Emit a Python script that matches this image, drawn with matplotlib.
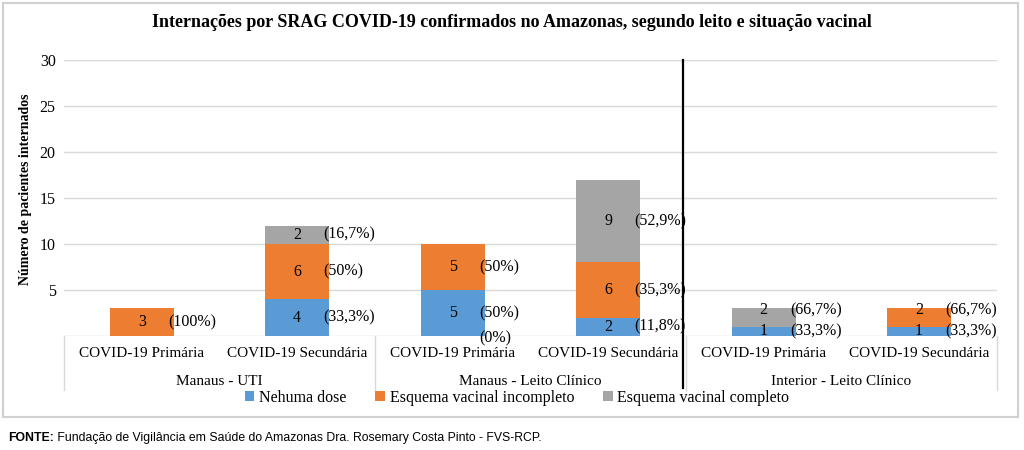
import matplotlib.pyplot as plt
import matplotlib.transforms as mtransforms
from matplotlib.patches import Rectangle, Patch

# dados
categorias = ['COVID-19 Primária', 'COVID-19 Secundária'] * 3
grupos = ['Manaus - UTI', 'Manaus - Leito Clínico', 'Interior - Leito Clínico']
nenhuma_dose = [0, 4, 5, 2, 1, 1]
incompleto = [3, 6, 5, 6, 0, 2]
completo = [0, 2, 0, 9, 2, 0]
series_nomes = ['Nehuma dose', 'Esquema vacinal incompleto', 'Esquema vacinal completo']
cores = ['#5B9BD5', '#ED7D31', '#A5A5A5']

plt.rcParams['font.family'] = ['Liberation Serif', 'DejaVu Serif']

fig = plt.figure(figsize=(10.24, 4.5), dpi=100)
ax = fig.add_axes([0.0625, 0.2533, 0.911, 0.6134])

x = list(range(len(categorias)))
largura = 0.41
series = [nenhuma_dose, incompleto, completo]
totais = [sum(v) for v in zip(*series)]


def fmt_pct(v, t):
    p = round(100 * v / t, 1)
    if p == int(p):
        return f'({int(p)}%)'
    return '(' + f'{p:.1f}'.replace('.', ',') + '%)'


base = [0] * len(x)
ultimo = [-10] * len(x)  # última posição de rótulo por barra (evita sobreposição)
for vals, cor, nome in zip(series, cores, series_nomes):
    ax.bar(x, vals, largura, bottom=base, color=cor, label=nome, zorder=2)
    for i, v in enumerate(vals):
        if v > 0:
            yc = max(base[i] + v / 2, ultimo[i] + 2.3)
            ultimo[i] = yc
            ax.text(x[i], yc, str(v), ha='center', va='center', fontsize=11.5)
            ax.text(x[i] + 0.17, yc, fmt_pct(v, totais[i]), ha='left', va='center', fontsize=11.5)
    base = [b + v for b, v in zip(base, vals)]

# rótulo de zero mostrado no gráfico original
ax.text(x[2] + 0.17, -0.3, fmt_pct(completo[2], totais[2]), ha='left', va='center', fontsize=11.5)

ax.set_xlim(-0.5, 5.5)
ax.set_ylim(0, 30)
ax.set_yticks([5, 10, 15, 20, 25, 30])
ax.tick_params(axis='y', length=0, labelsize=11.5, pad=6)
ax.set_xticks([])
ax.grid(axis='y', color='#D9D9D9', linewidth=1, zorder=0)
for s in ax.spines.values():
    s.set_visible(False)
ax.axhline(0, color='#D9D9D9', linewidth=1, zorder=1)
ax.set_ylabel('Número de pacientes internados', fontsize=10, fontweight='bold')
ax.yaxis.set_label_coords(-0.034, 0.53)

# eixo de categorias em dois níveis
trans = mtransforms.blended_transform_factory(ax.transData, ax.transAxes)
for xs in [-0.5, 1.5, 3.5, 5.5]:
    ax.plot([xs, xs], [0, -0.196], color='#D9D9D9', linewidth=1, transform=trans, clip_on=False)
for i, c in enumerate(categorias):
    ax.text(x[i], -0.062, c, ha='center', va='center', fontsize=11, transform=trans)
for j, g in enumerate(grupos):
    ax.text(2 * j + 0.5, -0.163, g, ha='center', va='center', fontsize=11, transform=trans)

# linha vertical preta separando Manaus / Interior
ax.plot([3.48, 3.48], [-0.19, 1], color='black', linewidth=1.6, transform=trans, clip_on=False, zorder=5)

handles = [Patch(facecolor=c, label=n) for c, n in zip(cores, series_nomes)]
fig.legend(handles=handles, loc='center', bbox_to_anchor=(0.505, 0.116), ncol=3, frameon=False,
           fontsize=11.5, handlelength=0.6, handleheight=0.6, handletextpad=0.3, columnspacing=1.8)

fig.suptitle('Internações por SRAG COVID-19 confirmados no Amazonas, segundo leito e situação vacinal',
             x=0.5, y=0.951, va='center', fontsize=13, fontweight='bold')

# moldura do gráfico
fig.add_artist(Rectangle((0.003, 0.073), 0.991, 0.92, transform=fig.transFigure,
                         fill=False, edgecolor='#D0D0D0', linewidth=1.5))

# fonte
t1 = fig.text(0.008, 0.027, 'FONTE:', ha='left', va='center', fontsize=8.8,
              fontweight='bold', family='Liberation Sans')
ax.annotate(' Fundação de Vigilância em Saúde do Amazonas Dra. Rosemary Costa Pinto - FVS-RCP.',
            xy=(1, 0.5), xycoords=t1, ha='left', va='center', fontsize=8.8,
            family='Liberation Sans', annotation_clip=False)

fig.savefig('out.png', dpi=100)
